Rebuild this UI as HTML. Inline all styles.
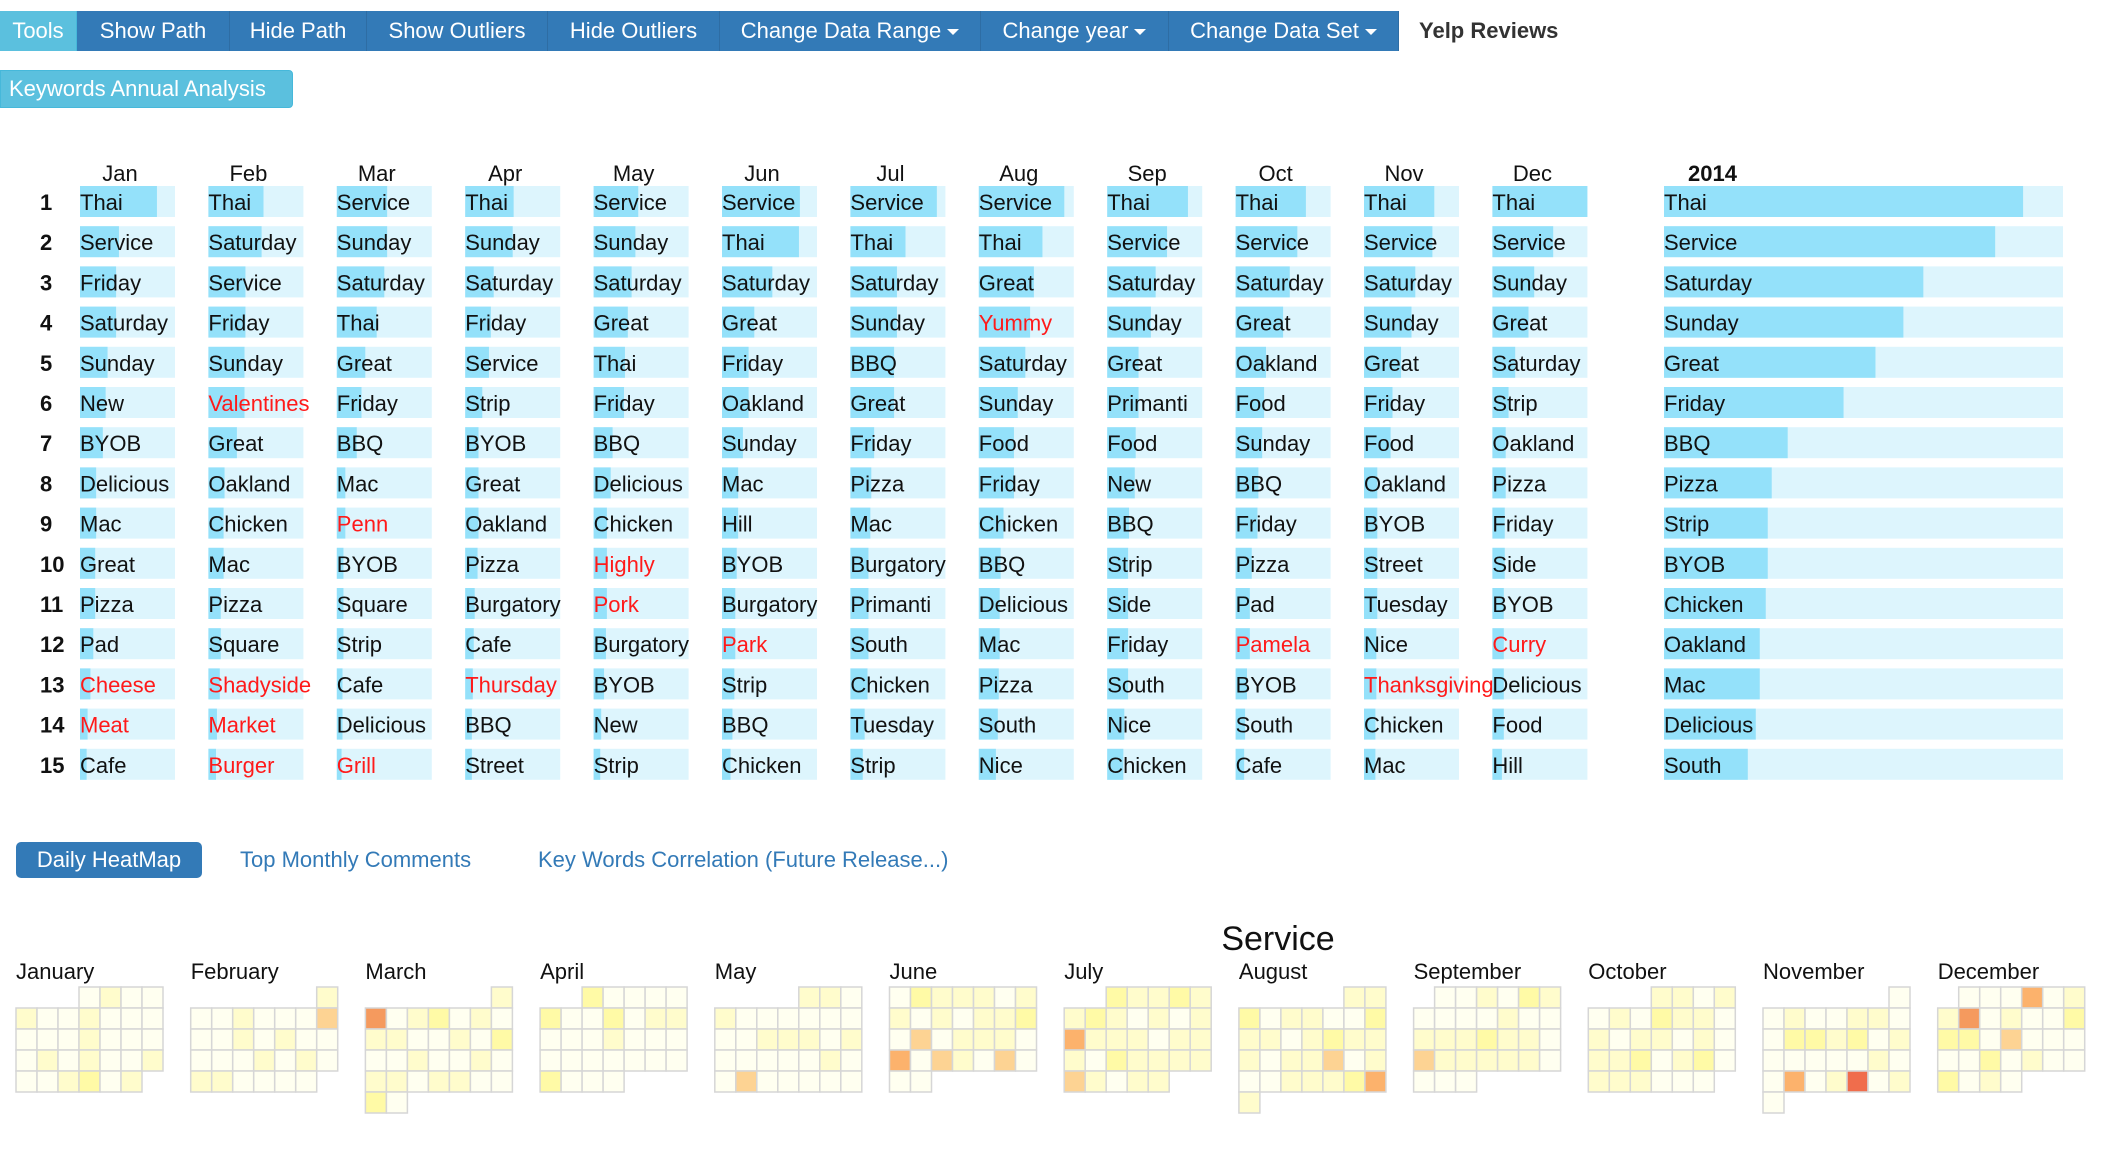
<!DOCTYPE html>
<html><head><meta charset="utf-8">
<style>
body{margin:0;width:2106px;height:1138px;background:#fff;font-family:"Liberation Sans",Arial,sans-serif;position:relative;overflow:hidden}
.tb{position:absolute;top:11px;height:40px;background:#337ab7;color:#fff;font-size:22px;line-height:40px;text-align:center;border-right:1px solid #2e6da4;box-sizing:border-box}
.caret{display:inline-block;width:0;height:0;border-left:6px solid transparent;border-right:6px solid transparent;border-top:6px solid #fff;vertical-align:middle;margin-left:6px}
svg text{font-family:"Liberation Sans",Arial,sans-serif}
</style></head><body>
<div class="tb" style="left:0;width:77px;background:#5bc0de;border-color:#46b8da">Tools</div>
<div class="tb" style="left:77px;width:153px">Show Path</div>
<div class="tb" style="left:230px;width:137px">Hide Path</div>
<div class="tb" style="left:367px;width:181px">Show Outliers</div>
<div class="tb" style="left:548px;width:172px">Hide Outliers</div>
<div class="tb" style="left:720px;width:261px">Change Data Range<span class="caret"></span></div>
<div class="tb" style="left:981px;width:188px">Change year<span class="caret"></span></div>
<div class="tb" style="left:1169px;width:230px">Change Data Set<span class="caret"></span></div>
<div style="position:absolute;left:1419px;top:11px;line-height:40px;font-size:22px;font-weight:bold;color:#333">Yelp Reviews</div>
<div style="position:absolute;left:0;top:70px;width:293px;height:38px;background:#5bc0de;border:1px solid #46b8da;border-radius:0 4px 4px 0;box-sizing:border-box;color:#fff;font-size:22px;line-height:36px;padding-left:8px">Keywords Annual Analysis</div>

<svg id="tbl" width="2106" height="800" style="position:absolute;left:0;top:0"></svg>

<div style="position:absolute;left:16px;top:842px;width:186px;height:36px;background:#337ab7;border-radius:5px;color:#fff;font-size:22px;line-height:36px;text-align:center">Daily HeatMap</div>
<div style="position:absolute;left:240px;top:842px;line-height:36px;font-size:22px;color:#337ab7">Top Monthly Comments</div>
<div style="position:absolute;left:538px;top:842px;line-height:36px;font-size:22px;color:#337ab7">Key Words Correlation (Future Release...)</div>

<svg id="hm" width="2106" height="260" style="position:absolute;left:0;top:900px"></svg>

<script>
const months = ["Jan","Feb","Mar","Apr","May","Jun","Jul","Aug","Sep","Oct","Nov","Dec"];
const wordsJan = ["Thai","Service","Friday","Saturday","Sunday","New","BYOB","Delicious","Mac","Great","Pizza","Pad","Cheese","Meat","Cafe"];
const valsJan = [.81,.41,.38,.38,.29,.27,.24,.17,.17,.16,.16,.14,.11,.08,.07];
const wordsFeb = ["Thai","Saturday","Service","Friday","Sunday","Valentines","Great","Oakland","Chicken","Mac","Pizza","Square","Shadyside","Market","Burger"];
const valsFeb = [.58,.56,.39,.39,.38,.38,.30,.17,.16,.16,.13,.13,.12,.09,.08];
const wordsMar = ["Service","Sunday","Saturday","Thai","Great","Friday","BBQ","Mac","Penn","BYOB","Square","Strip","Cafe","Delicious","Grill"];
const valsMar = [.53,.53,.50,.42,.30,.26,.21,.09,.09,.07,.07,.07,.06,.06,.05];
const wordsApr = ["Thai","Sunday","Saturday","Friday","Service","Strip","BYOB","Great","Oakland","Pizza","Burgatory","Cafe","Thursday","BBQ","Street"];
const valsApr = [.51,.50,.30,.27,.25,.18,.14,.14,.14,.13,.10,.09,.08,.07,.07];
const wordsMay = ["Service","Sunday","Saturday","Great","Thai","Friday","BBQ","Delicious","Chicken","Highly","Pork","Burgatory","BYOB","New","Strip"];
const valsMay = [.47,.44,.40,.36,.33,.32,.20,.18,.14,.14,.14,.13,.11,.08,.07];
const wordsJun = ["Service","Thai","Saturday","Great","Friday","Oakland","Sunday","Mac","Hill","BYOB","Burgatory","Park","Strip","BBQ","Chicken"];
const valsJun = [.82,.81,.53,.34,.28,.28,.22,.17,.17,.155,.14,.14,.13,.11,.09];
const wordsJul = ["Service","Thai","Saturday","Sunday","BBQ","Great","Friday","Pizza","Mac","Burgatory","Primanti","South","Chicken","Tuesday","Strip"];
const valsJul = [.91,.58,.49,.49,.46,.46,.25,.22,.21,.19,.19,.19,.18,.15,.13];
const wordsAug = ["Service","Thai","Great","Yummy","Saturday","Sunday","Food","Friday","Chicken","BBQ","Delicious","Mac","Pizza","South","Nice"];
const valsAug = [.90,.67,.58,.54,.49,.41,.37,.37,.26,.23,.22,.22,.21,.20,.18];
const wordsSep = ["Thai","Service","Saturday","Sunday","Great","Primanti","Food","New","BBQ","Strip","Side","Friday","South","Nice","Chicken"];
const valsSep = [.85,.63,.51,.46,.33,.33,.30,.29,.23,.22,.22,.22,.22,.18,.17];
const wordsOct = ["Thai","Service","Saturday","Great","Oakland","Food","Sunday","BBQ","Friday","Pizza","Pad","Pamela","BYOB","South","Cafe"];
const valsOct = [.74,.65,.57,.50,.32,.30,.28,.24,.23,.17,.15,.15,.12,.10,.09];
const wordsNov = ["Thai","Service","Saturday","Sunday","Great","Friday","Food","Oakland","BYOB","Street","Tuesday","Nice","Thanksgiving","Chicken","Mac"];
const valsNov = [.74,.72,.54,.50,.39,.30,.28,.14,.14,.14,.14,.13,.13,.12,.12];
const wordsDec = ["Thai","Service","Sunday","Great","Saturday","Strip","Oakland","Pizza","Friday","Side","BYOB","Curry","Delicious","Food","Hill"];
const valsDec = [1.0,.64,.44,.38,.24,.17,.14,.14,.13,.13,.12,.12,.12,.12,.10];
const wordsYear = ["Thai","Service","Saturday","Sunday","Great","Friday","BBQ","Pizza","Strip","BYOB","Chicken","Oakland","Mac","Delicious","South"];
const valsYear = [.90,.83,.65,.60,.53,.45,.31,.27,.26,.26,.255,.24,.24,.23,.21];
const outlierWords = ["Valentines","Penn","Highly","Pork","Park","Yummy","Pamela","Thanksgiving","Curry","Cheese","Meat","Shadyside","Market","Burger","Grill","Thursday"];
const yearLabel = "2014";
const heatTitle = "Service";
const monthNames = ["January","February","March","April","May","June","July","August","September","October","November","December"];
const dayLevels = [
"0100100100000010000101001001201",
"1001000300101000001010110000",
"1501201011001020010010110110020",
"200002002011000100000000002000",
"1101000000001110100000100300000",
"021110110101120301110403103000",
"2112112101014111011102111131011",
"1120110021101211101130100111241",
"001021000010011121103111110000",
"1101010211010110101120120111000",
"001001100221201000001004016010",
"0004011501002220300000201002010"];
const levelColors = ["#fffff0","#fffccc","#fffaa6","#fdd393","#fcb26c","#f59a5e","#f06d4c"];

const NS="http://www.w3.org/2000/svg";
function mk(parent,tag,attrs){const e=document.createElementNS(NS,tag);for(const k in attrs)e.setAttribute(k,attrs[k]);parent.appendChild(e);return e;}

// table
const tbl=document.getElementById('tbl');
const colX0=80, colStep=128.4, cellW=95, cellH=31, rowY0=186, rowStep=40.2;
const xScale=(v,w)=>v*w;
const allWords=[wordsJan,wordsFeb,wordsMar,wordsApr,wordsMay,wordsJun,wordsJul,wordsAug,wordsSep,wordsOct,wordsNov,wordsDec];
const allVals=[valsJan,valsFeb,valsMar,valsApr,valsMay,valsJun,valsJul,valsAug,valsSep,valsOct,valsNov,valsDec];
for(let r=0;r<15;r++){
  const t=mk(tbl,'text',{x:40,y:rowY0+r*rowStep+24,'font-size':22,'font-weight':'bold',fill:'#111'});
  t.textContent=String(r+1);
  
  
}
function drawCol(x,w,header,bold,words,vals){
  const h=mk(tbl,'text',{x:bold?x+24:x+40,y:181,'font-size':22,'text-anchor':bold?'start':'middle','font-weight':bold?'bold':'normal',fill:'#111'});
  h.textContent=header;
  
  
  for(let r=0;r<words.length;r++){
    const y=rowY0+r*rowStep;
    const bg=mk(tbl,'rect',{x:x,y:y,width:w,height:cellH,fill:'#ddf5fd'});
    
    
    const b=mk(tbl,'rect',{x:x,y:y,width:xScale(vals[r],w),height:cellH,fill:'#94e1fa'});
    
    
    const t=mk(tbl,'text',{x:x,y:y+24,'font-size':22,fill:outlierWords.includes(words[r])?'#ff1a1a':'#111'});
    t.textContent=words[r];
    
    
  }
}
for(let m=0;m<12;m++) drawCol(colX0+m*colStep,cellW,months[m],false,allWords[m],allVals[m]);
drawCol(1664,399,yearLabel,true,wordsYear,valsYear);

// heatmap
const hm=document.getElementById('hm');
const tt=mk(hm,'text',{x:1278,y:50,'font-size':34,'text-anchor':'middle',fill:'#111'});
tt.textContent=heatTitle;


const mX0=16, mStep=174.7, cs=21, gridTop=87;
for(let m=0;m<12;m++){
  const x0=mX0+m*mStep;
  const lab=mk(hm,'text',{x:x0,y:79,'font-size':22,fill:'#111'});
  lab.textContent=monthNames[m];
  
  
  const first=new Date(2014,m,1).getDay();
  const s=dayLevels[m];
  for(let d=0;d<s.length;d++){
    const idx=first+d, col=idx%7, row=Math.floor(idx/7);
    const c=mk(hm,'rect',{x:x0+col*cs,y:gridTop+row*cs,width:cs,height:cs,fill:levelColors[+s[d]],stroke:'#d6d6d6','stroke-width':1.5});
    
    
  }
}
</script>
</body></html>
